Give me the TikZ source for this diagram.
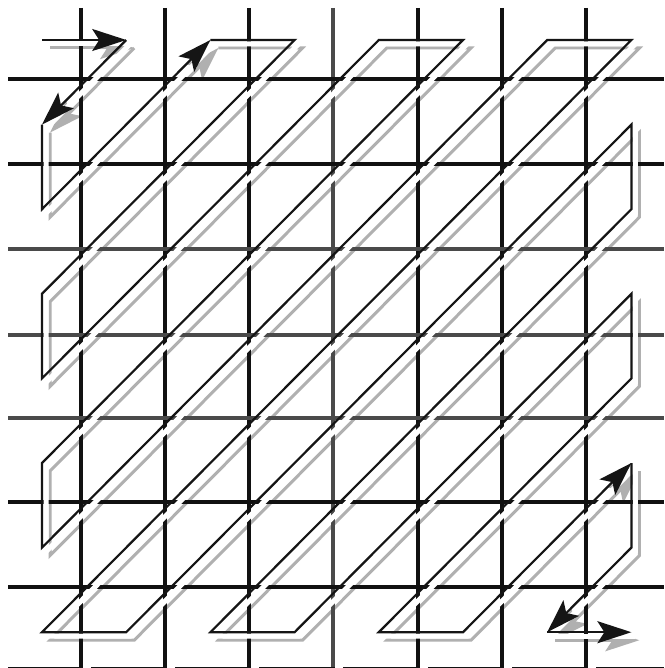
\documentclass[tikz,border=0pt]{standalone}
\usetikzlibrary{arrows.meta}
\definecolor{gridk}{HTML}{111111}
\definecolor{gridg}{HTML}{4A4A4A}
\definecolor{pathk}{HTML}{151515}
\definecolor{shad}{HTML}{B0B0B0}
\tikzset{
  gridline/.style={line width=3.2pt, draw=gridk},
  zzblack/.style={line width=2.2pt, draw=pathk, line join=miter},
  zzshadow/.style={line width=3pt, draw=shad, line join=miter},
  zzhalo/.style={line width=5pt, draw=white, line join=miter},
  ziptip/.style={arrows={-Stealth[length=34pt,width=22pt,inset=7pt]}},
}
\newcommand\zigzag[2]{%
  \draw[#1] (#2-0-0) -- (#2-1-0);
  \draw[#1] (#2-1-0) -- (#2-0-1);
  \draw[#1] (#2-0-1) -- (#2-0-2) -- (#2-2-0);
  \draw[#1] (#2-2-0) -- (#2-3-0) -- (#2-0-3) -- (#2-0-4) -- (#2-4-0) -- (#2-5-0)
     -- (#2-0-5) -- (#2-0-6) -- (#2-6-0) -- (#2-7-0) -- (#2-0-7) -- (#2-1-7)
     -- (#2-7-1) -- (#2-7-2) -- (#2-2-7) -- (#2-3-7) -- (#2-7-3) -- (#2-7-4)
     -- (#2-4-7) -- (#2-5-7) -- (#2-7-5);
  \draw[#1] (#2-7-5) -- (#2-7-6) -- (#2-6-7);
  \draw[#1] (#2-6-7) -- (#2-7-7);
}
\begin{document}
\begin{tikzpicture}[x=1pt,y=-1pt]
\useasboundingbox (0,0) rectangle (664,668);
\fill[white] (0,0) rectangle (664,668);
% named coordinates of the 8x8 scan positions
\foreach \c in {0,...,7} {
  \foreach \r in {0,...,7} {
    \coordinate (k-\c-\r) at ({42+84.2*\c},{40+84.6*\r});
    \coordinate (s-\c-\r) at ({50+84.2*\c},{48+84.6*\r});
    \coordinate (w-\c-\r) at ({46+84.2*\c},{44+84.6*\r});
  }
}
% shadow
\zigzag{zzshadow,ziptip}{s}
% grid
\foreach \x/\cl in {81/gridk,165/gridk,249/gridk,333/gridg,418/gridk,502/gridk,586/gridk}
  \draw[gridline,draw=\cl] (\x,8) -- (\x,672);
\foreach \y/\cl in {79/gridk,164/gridk,249/gridg,335/gridg,418/gridg,502/gridk,587/gridk}
  \draw[gridline,draw=\cl] (8,\y) -- (664,\y);
\foreach \a/\b in {8/83,91/167,175/251,259/335,343/420,428/504,512/588,596/664}
  \draw[gridline] (\a,669) -- (\b,669);
% halo and black scan path
\zigzag{zzhalo}{w}
\zigzag{zzblack,ziptip}{k}
\end{tikzpicture}
\end{document}
